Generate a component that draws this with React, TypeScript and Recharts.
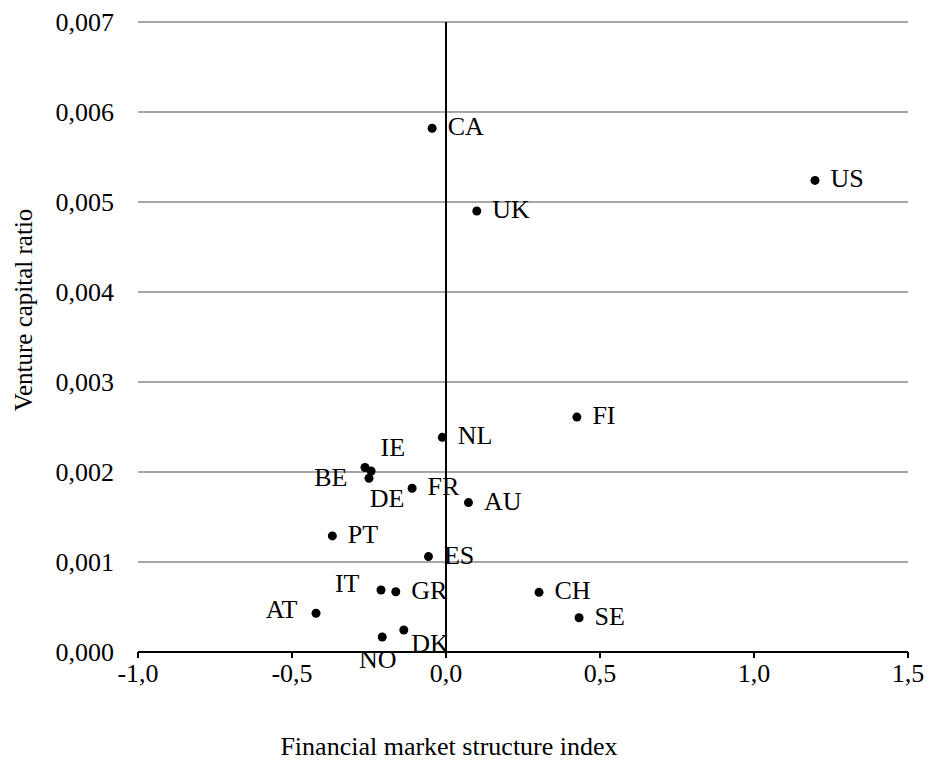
import { ScatterChart, Scatter, XAxis, YAxis, CartesianGrid, ReferenceLine, LabelList } from "recharts";

const countries = ["CA", "US", "UK", "FI", "NL", "IE", "DE", "BE", "FR", "AU", "PT", "ES", "IT", "GR", "AT", "DK", "NO", "CH", "SE"];
const marketIndex = [-0.045, 1.198, 0.1, 0.425, -0.012, -0.263, -0.243, -0.25, -0.11, 0.073, -0.369, -0.057, -0.211, -0.163, -0.422, -0.137, -0.207, 0.302, 0.432];
const ventureRatio = [0.00582, 0.00524, 0.0049, 0.00261, 0.002385, 0.00205, 0.00201, 0.00193, 0.00182, 0.00166, 0.00129, 0.00106, 0.000689, 0.00067, 0.00043, 0.000244, 0.000167, 0.000663, 0.000381];
const xTicks = [-1, -0.5, 0, 0.5, 1, 1.5];
const yTicks = [0, 0.001, 0.002, 0.003, 0.004, 0.005, 0.006, 0.007];

// label placement relative to the dot: [dx, dy, anchor]
const labelPos: Record<string, [number, number, string]> = {
  IE: [20, -15, "start"],
  DE: [3, 32, "start"],
  BE: [-17, 4, "end"],
  IT: [-17, -2, "end"],
  AT: [-14, 1, "end"],
  DK: [12, 18, "start"],
  NO: [0, 27, "middle"],
};

const data = countries.map((name, i) => ({ name, x: marketIndex[i], y: ventureRatio[i] }));
const font = "Liberation Serif";
const comma = (v: number, d: number) => v.toFixed(d).replace(".", ",");

const PointLabel = (props: any) => {
  const { x, y, value } = props;
  const [dx, dy, anchor] = labelPos[value] || [20, 3, "start"];
  return (
    <text x={x + dx} y={y + dy} textAnchor={anchor} dominantBaseline="central" fontSize={26} fontFamily={font} fill="#000">
      {value}
    </text>
  );
};

const XTick = (p: any) => (
  <text x={p.x} y={p.y + 22} textAnchor="middle" fontSize={26} fontFamily={font} fill="#000">
    {comma(p.payload.value, 1)}
  </text>
);

const YTick = (p: any) => (
  <text x={114} y={p.y} textAnchor="end" dominantBaseline="central" fontSize={26} fontFamily={font} fill="#000">
    {comma(p.payload.value, 3)}
  </text>
);

export default function App() {
  return (
    <div style={{ position: "absolute", left: 0, top: 0, background: "#fff" }}>
      <ScatterChart width={930} height={762} margin={{ top: 22, right: 22, bottom: 0, left: 0 }}>
        <CartesianGrid vertical={false} stroke="#888" strokeWidth={1.3} />
        <XAxis
          type="number"
          dataKey="x"
          domain={[-1, 1.5]}
          ticks={xTicks}
          height={110}
          stroke="#000"
          strokeWidth={2}
          tickSize={6}
          tick={<XTick />}
          label={() => (
            <text x={449} y={755} textAnchor="middle" fontSize={26} fontFamily={font} fill="#000">
              Financial market structure index
            </text>
          )}
        />
        <YAxis
          type="number"
          dataKey="y"
          domain={[0, 0.007]}
          ticks={yTicks}
          width={138}
          axisLine={false}
          tickLine={false}
          tick={<YTick />}
          label={() => (
            <text x={23} y={310} transform="rotate(-90 23 310)" textAnchor="middle" dominantBaseline="central" fontSize={25} fontFamily={font} fill="#000">
              Venture capital ratio
            </text>
          )}
        />
        <ReferenceLine x={0} stroke="#000" strokeWidth={2} />
        <Scatter
          data={data}
          fill="#000"
          isAnimationActive={false}
          shape={(p: any) => <circle cx={p.cx} cy={p.cy} r={4.5} fill="#000" />}
        >
          <LabelList dataKey="name" content={PointLabel} />
        </Scatter>
      </ScatterChart>
    </div>
  );
}
